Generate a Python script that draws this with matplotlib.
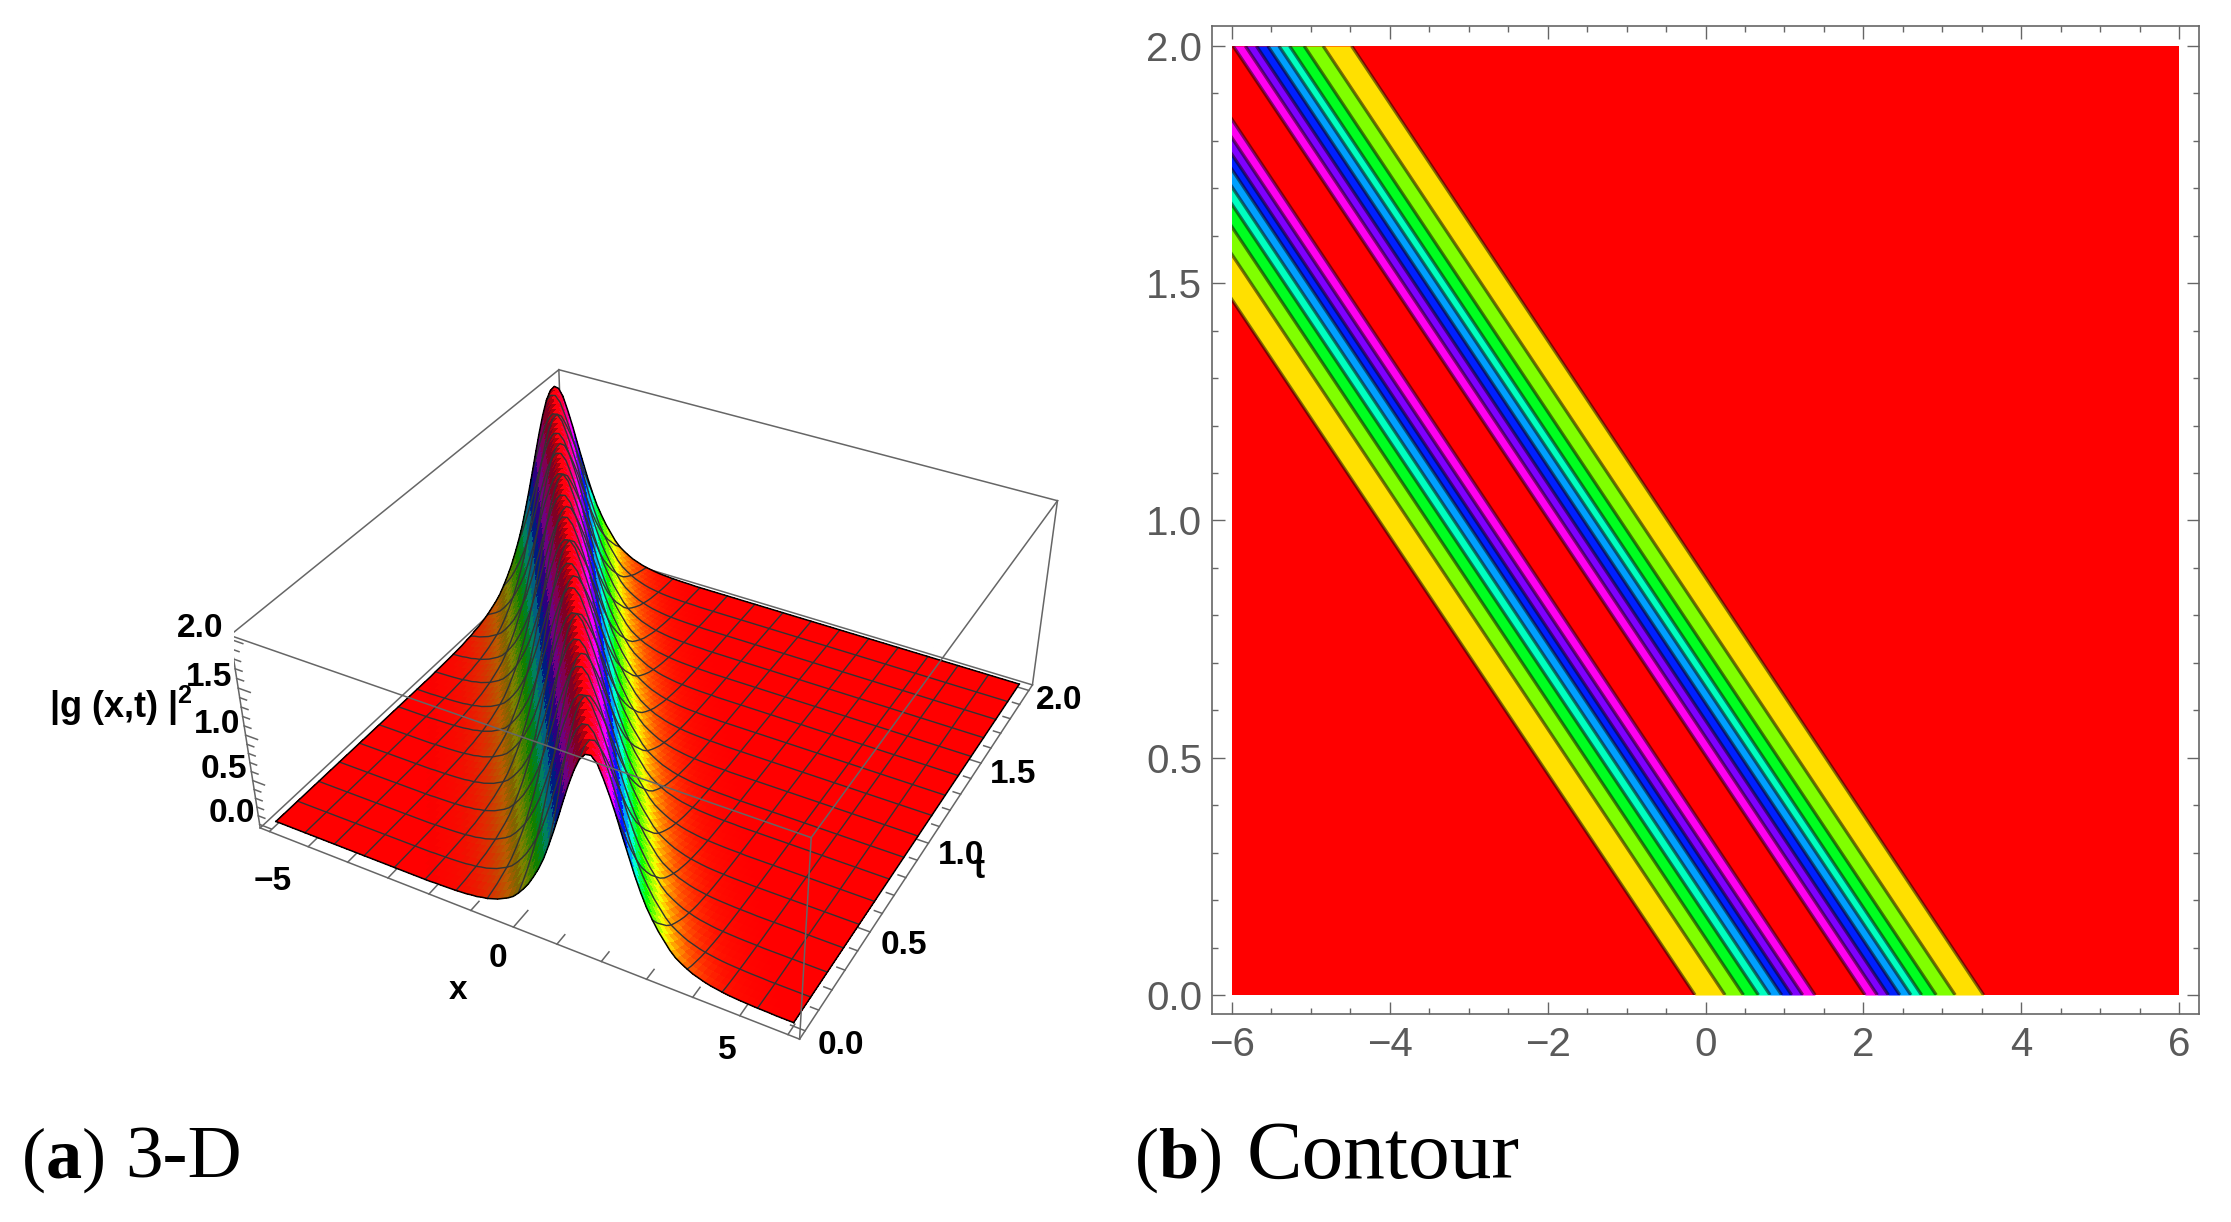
import numpy as np
import matplotlib
matplotlib.use('Agg')
import matplotlib.pyplot as plt
from matplotlib.colors import hsv_to_rgb
from matplotlib.patches import Rectangle
from matplotlib.ticker import FormatStrFormatter, MultipleLocator
from mpl_toolkits.mplot3d import proj3d

plt.rcParams['font.family'] = 'Liberation Sans'
plt.rcParams['mathtext.fontset'] = 'custom'
plt.rcParams['mathtext.rm'] = 'Liberation Serif'
plt.rcParams['mathtext.bf'] = 'Liberation Serif:bold'
plt.rcParams['mathtext.sf'] = 'Liberation Sans:bold'

W, H = 2231, 1222

# ridge height read along u = x + 4t, one value every 0.125, from u = -2.0 to u = 5.5
ridge_heights = [
    .004, .005, .007, .009, .012, .016, .02, .03, .035, .05, .06, .08, .10, .13, .16, .20, .26,
    .33, .41, .51, .62, .75, .91, 1.08, 1.26, 1.45, 1.63, 1.79, 1.92, 1.99, 2.0, 1.94, 1.81,
    1.66, 1.49, 1.30, 1.12, .94, .78, .64, .53, .43, .35, .27, .21, .17, .135, .105, .085,
    .065, .05, .04, .03, .022, .017, .013, .01, .007, .005, .004, .003,
]
ridge_start = 32  # index of u = -2.0 on the lattice that starts at u = -6

# contour edges where they meet t = 0, and how far they move per unit t
left_edges = [-0.133, 0.247, 0.48, 0.67, 0.817, 0.964, 1.09, 1.23, 1.386]
right_edges = [2.02, 2.175, 2.315, 2.46, 2.6, 2.735, 2.92, 3.16, 3.52]
band_colors = ['#FFE000', '#80FF00', '#00FF20', '#00FFC0', '#00A0FF', '#0020FF', '#8000FF', '#FF00F0']
ridge_speed = 4.0

x_ticks_3d = [-5, 0, 5]
t_ticks_3d = [0.0, 0.5, 1.0, 1.5, 2.0]
z_ticks_3d = [0.0, 0.5, 1.0, 1.5, 2.0]

GREY = '#666666'
fig = plt.figure(figsize=(W / 100, H / 100), dpi=100)

# ---- (a) surface ----
xlim = (-6.24, 6.24)
tlim = (-0.04, 2.04)
zlim = (-0.04, 2.04)
S = 838.0
ax = fig.add_axes([(652.7 - S / 2) / W, 1 - (673.5 + S / 2) / H, S / W, S / H],
                  projection='3d', computed_zorder=False)
ax.set_axis_off()
ax.patch.set_alpha(0)
ax.view_init(elev=36.207, azim=-61.502)
ax.set_proj_type('persp', focal_length=0.4415)
ax.set_box_aspect((1, 0.9979, 0.3964))
ax.set_xlim(*xlim, view_margin=0)
ax.set_ylim(*tlim, view_margin=0)
ax.set_zlim(*zlim, view_margin=0)

# lattice: one step in x or t moves u by 0.125, so heights are looked up by index
heights = np.zeros(161)
heights[ridge_start:ridge_start + len(ridge_heights)] = ridge_heights
x = -6 + np.arange(97) * 0.125
t = np.arange(65) / 32
X, T = np.meshgrid(x, t)
I, J = np.meshgrid(np.arange(65), np.arange(97), indexing='ij')
Z = heights[I + J]

cell_z = (Z[:-1, :-1] + Z[1:, 1:] + Z[:-1, 1:] + Z[1:, :-1]) / 4
grad = np.gradient(heights, 0.125)[I[:-1, :-1] + J[:-1, :-1] + 1]
shade = 1 - 0.5 * np.clip(grad / 0.5, 0, 1)
hsv = np.dstack([np.clip(cell_z / 2, 0, 1), np.ones_like(cell_z), shade])
face = hsv_to_rgb(hsv)
ax.plot_surface(X, T, Z, facecolors=face, rstride=1, cstride=1, shade=False,
                linewidth=0, antialiased=False, zorder=2)

# camera position in data coordinates, used to hide mesh lines behind the ridge
M = ax.get_proj()
_, _, vt = np.linalg.svd(M[[0, 1, 3]])
eye = vt[-1][:3] / vt[-1][3]
u_table = -6 + np.arange(161) * 0.125


def hide_occluded(xs, ts, zs):
    zs = np.array(zs, dtype=float)
    for k in range(len(zs)):
        p = np.array([xs[k], ts[k], zs[k]])
        smax = (2.1 - p[2]) / (eye[2] - p[2])
        s = np.linspace(0, 1, 70)[1:] * smax
        rx = p[0] + s * (eye[0] - p[0])
        rt = p[1] + s * (eye[1] - p[1])
        rz = p[2] + s * (eye[2] - p[2])
        inside = (rx >= -6) & (rx <= 6) & (rt >= 0) & (rt <= 2)
        surf = np.interp(rx + 4 * rt, u_table, heights)
        if np.any(rz[inside] < surf[inside] - 0.02):
            zs[k] = np.nan
    return zs


for i in range(4, 64, 4):
    ax.plot(X[i], T[i], hide_occluded(X[i], T[i], Z[i]), color='#333333', lw=1.0, zorder=3)
for j in range(6, 96, 6):
    ax.plot(X[:, j], T[:, j], hide_occluded(X[:, j], T[:, j], Z[:, j]), color='#333333', lw=1.0, zorder=3)
for i in (0, 64):
    ax.plot(X[i], T[i], hide_occluded(X[i], T[i], Z[i]), color='black', lw=1.1, zorder=3)
for j in (0, 96):
    ax.plot(X[:, j], T[:, j], hide_occluded(X[:, j], T[:, j], Z[:, j]), color='black', lw=1.1, zorder=3)


def edge(a, b, z):
    ax.plot([a[0], b[0]], [a[1], b[1]], [a[2], b[2]], color=GREY, lw=1.1, zorder=z)


x0, x1 = xlim
t0, t1 = tlim
z0, z1 = zlim
# box edges behind the surface
edge((x0, t1, z0), (x0, t1, z1), 1)
edge((x0, t0, z1), (x0, t1, z1), 1)
edge((x0, t1, z1), (x1, t1, z1), 1)
edge((x0, t0, z0), (x0, t1, z0), 1)
edge((x0, t1, z0), (x1, t1, z0), 1)
edge((x0, t0, z0), (x1, t0, z0), 1)
edge((x1, t0, z0), (x1, t1, z0), 1)
edge((x0, t0, z0), (x0, t0, z1), 1)
edge((x1, t1, z0), (x1, t1, z1), 1)
# box edges in front of it
edge((x0, t0, z1), (x1, t0, z1), 4)
edge((x1, t0, z1), (x1, t1, z1), 4)
edge((x1, t0, z0), (x1, t0, z1), 4)

# ticks
for v in range(-6, 7):
    n = 0.09 if v in x_ticks_3d else 0.05
    edge((v, t0, z0), (v, t0 + n, z0), 1)
for v in np.arange(0, 21) / 10:
    n = 0.30 if round(v * 10) % 5 == 0 else 0.17
    edge((x1, v, z0), (x1 - n, v, z0), 1)
    edge((x0, t0, v), (x0 + n, t0, v), 1)


def label3d(px, pt, pz, text, size=24):
    # place the text where the 3D point lands in the figure
    sx, sy, _ = proj3d.proj_transform(px, pt, pz, M)
    fx, fy = fig.transFigure.inverted().transform(ax.transData.transform((sx, sy)))
    fig.text(fx, fy, text, fontsize=size, fontweight='bold', ha='center', va='center', color='black')


for v in x_ticks_3d:
    if v < 0:
        label3d(v, -0.24, z0, str(v).replace('-', '\u2212'))
    else:
        label3d(v + 0.2, -0.19, z0, str(v))
for v in t_ticks_3d:
    label3d(6.97, v, -0.05, f'{v:.1f}')
for v in z_ticks_3d:
    label3d(-6.98, t0, v, f'{v:.1f}')
label3d(0.0, -0.37, z0, 'x')
label3d(7.47, 0.95, -0.02, 't')
label3d(-9.6, t0, 0.8, r'|g (x,t) |$^{\mathsf{2}}$', size=26)

# ---- (b) contour ----
left, right, top, bottom = 1212, 2199, 26, 1014
bx = fig.add_axes([left / W, 1 - bottom / H, (right - left) / W, (bottom - top) / H])
bx.set_xlim(-6.247, 6.247)
bx.set_ylim(-0.04, 2.042)
clip = Rectangle((-6, 0), 12, 2, transform=bx.transData)
bx.add_patch(Rectangle((-6, 0), 12, 2, facecolor='#FF0000', edgecolor='none', zorder=1))

tt = np.array([0.0, 2.0])
for edges, colors in ((left_edges, band_colors), (right_edges, band_colors[::-1])):
    for k, col in enumerate(colors):
        band = bx.fill_betweenx(tt, edges[k] - ridge_speed * tt, edges[k + 1] - ridge_speed * tt,
                                color=col, lw=0, zorder=2)
        band.set_clip_path(clip)
    for e in edges:
        ln, = bx.plot(e - ridge_speed * tt, tt, color='black', alpha=0.5, lw=2.4, zorder=3,
                      solid_capstyle='butt')
        ln.set_clip_path(clip)

bx.xaxis.set_major_locator(MultipleLocator(2))
bx.xaxis.set_minor_locator(MultipleLocator(0.5))
bx.yaxis.set_major_locator(MultipleLocator(0.5))
bx.yaxis.set_minor_locator(MultipleLocator(0.1))
bx.yaxis.set_major_formatter(FormatStrFormatter('%.1f'))
bx.tick_params(which='both', direction='in', top=True, right=True, color=GREY, width=1.0)
bx.tick_params(which='major', length=9, labelsize=29, labelcolor='#5a5a5a', pad=9)
bx.tick_params(which='minor', length=4.5)
bx.tick_params(axis='y', which='major', pad=7)
for sp in bx.spines.values():
    sp.set_color(GREY)
    sp.set_linewidth(1.2)

# captions
cap = dict(family='Liberation Serif', color='black', va='baseline')
fig.text(21 / W, 1 - 1178 / H, r'($\mathbf{a}$)', fontsize=52, **cap)
fig.text(125 / W, 1 - 1178 / H, '3-D', fontsize=54, **cap)
fig.text(1134 / W, 1 - 1178 / H, r'($\mathbf{b}$)', fontsize=52, **cap)
fig.text(1247 / W, 1 - 1178 / H, 'Contour', fontsize=60, **cap)

fig.savefig('out.png', dpi=100)
